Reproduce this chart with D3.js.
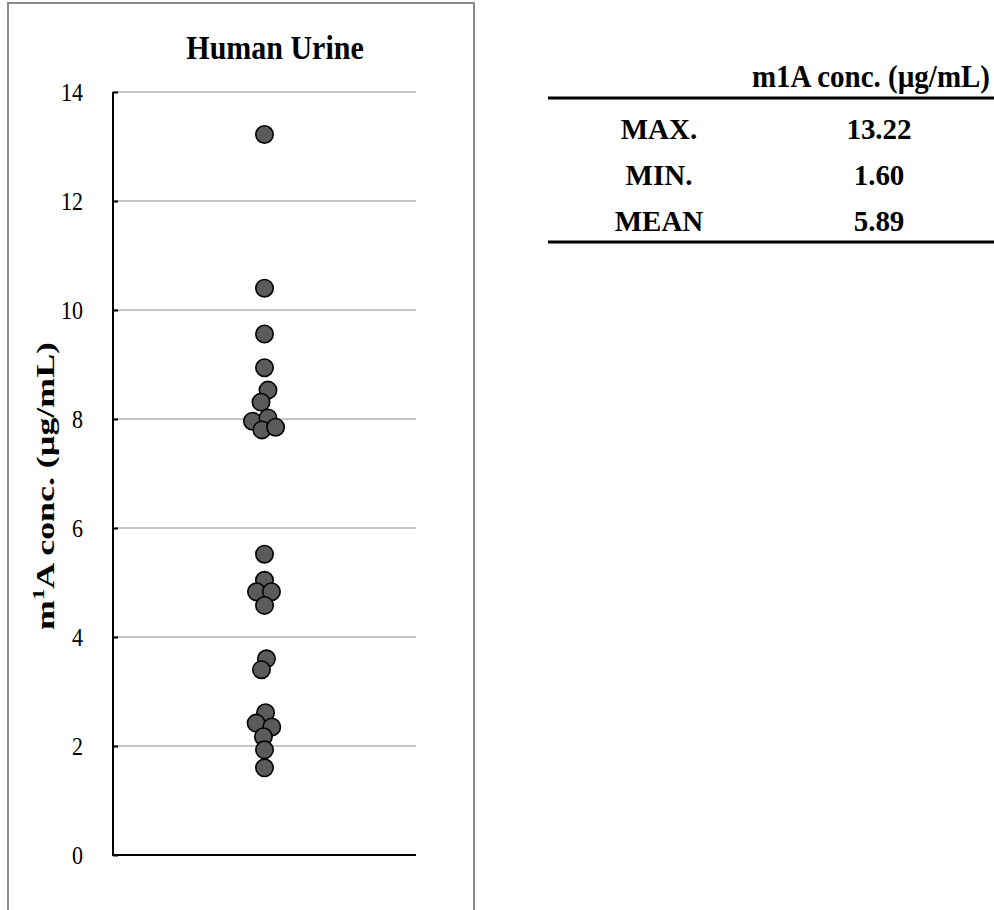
<!DOCTYPE html>
<html>
<head>
<meta charset="utf-8">
<script src="https://cdn.jsdelivr.net/npm/d3@7"></script>
<style>
  html, body { margin: 0; padding: 0; background: #fff; }
  svg { display: block; }
  text { font-family: "Liberation Serif", "Times New Roman", serif; fill: #000; }
</style>
</head>
<body>
<svg id="chart" width="994" height="910"></svg>
<script>
// m1A concentration in each urine sample (µg/mL)
const concentrations = [
  13.22, 10.40, 9.56, 8.94, 8.53, 8.31, 7.96, 8.02, 7.80, 7.85,
  5.52, 5.04, 4.83, 4.83, 4.58,
  3.60, 3.40,
  2.61, 2.42, 2.35, 2.17, 1.93, 1.60
];
// horizontal spread of the dot plot around the single category (x units)
const spread = [
  0, 0, 0, 0, 0.023, -0.023, -0.079, 0.023, -0.017, 0.073,
  0, 0, -0.053, 0.046, 0,
  0.013, -0.02,
  0.007, -0.055, 0.048, -0.007, 0, 0
];
const yTicks = [0, 2, 4, 6, 8, 10, 12, 14];
const statLabels = ["MAX.", "MIN.", "MEAN"];
const statValues = ["13.22", "1.60", "5.89"];
const chartTitle = "Human Urine";
const tableHeader = "m1A conc. (µg/mL)";

const svg = d3.select("#chart");

// text placed at (x, y) baseline, stretched vertically by k
function tallText(parent, x, y, k) {
  return parent.append("text")
    .attr("transform", `translate(${x},${y}) scale(1,${k})`);
}

// outer panel frame
svg.append("rect")
  .attr("x", 8).attr("y", 3).attr("width", 466).attr("height", 920)
  .attr("fill", "none").attr("stroke", "#8c8c8c").attr("stroke-width", 2);

const y = d3.scaleLinear().domain([0, 14]).range([855, 92]);
const x = d3.scaleLinear().domain([0, 2]).range([113, 416]);

// horizontal gridlines
svg.append("g")
  .selectAll("line")
  .data(yTicks.filter(t => t > 0))
  .join("line")
  .attr("x1", x(0)).attr("x2", x(2))
  .attr("y1", d => y(d)).attr("y2", d => y(d))
  .attr("stroke", "#b3b3b3").attr("stroke-width", 1.3);

// left axis with short inward ticks
const yAxis = svg.append("g")
  .attr("transform", `translate(${x(0)},0)`)
  .call(d3.axisLeft(y).tickValues(yTicks).tickSize(-5).tickPadding(30).tickFormat(d3.format("d")));
yAxis.select(".domain").attr("stroke", "#000").attr("stroke-width", 2)
  .attr("d", `M0,${y(14)}V${y(0)}`);
yAxis.selectAll(".tick line").attr("stroke", "#000").attr("stroke-width", 2);
yAxis.selectAll(".tick text")
  .attr("font-size", 22).attr("fill", "#000")
  .attr("transform", "scale(1,1.18)");

// baseline
svg.append("line")
  .attr("x1", x(0) - 1).attr("x2", x(2))
  .attr("y1", y(0)).attr("y2", y(0))
  .attr("stroke", "#000").attr("stroke-width", 2);

// dots
svg.append("g")
  .selectAll("circle")
  .data(concentrations.map((v, i) => ({ v, s: spread[i] })))
  .join("circle")
  .attr("cx", d => x(1 + d.s))
  .attr("cy", d => y(d.v))
  .attr("r", 8.7)
  .attr("fill", "#5b5b5b")
  .attr("stroke", "#000")
  .attr("stroke-width", 1.6);

// title
tallText(svg, 275, 59, 1.1)
  .attr("text-anchor", "middle")
  .attr("font-weight", "bold").attr("font-size", 30)
  .text(chartTitle);

// y-axis title with superscript
const yl = svg.append("text")
  .attr("transform", "translate(54,486) rotate(-90)")
  .attr("text-anchor", "middle")
  .attr("font-weight", "bold").attr("font-size", 25)
  .attr("textLength", 288).attr("lengthAdjust", "spacingAndGlyphs");
yl.append("tspan").text("m");
yl.append("tspan").attr("font-size", 16).attr("dy", -10).text("1");
yl.append("tspan").attr("dy", 10).text("A conc. (µg/mL)");

// summary table
const tbl = svg.append("g");
tallText(tbl, 871, 87, 1.12)
  .attr("text-anchor", "middle")
  .attr("font-weight", "bold").attr("font-size", 29)
  .text(tableHeader);
tbl.append("line")
  .attr("x1", 548).attr("x2", 994).attr("y1", 98).attr("y2", 98)
  .attr("stroke", "#000").attr("stroke-width", 3);
statLabels.forEach((d, i) => {
  tallText(tbl, 659, 139 + i * 46, 1.05)
    .attr("text-anchor", "middle")
    .attr("font-weight", "bold").attr("font-size", 29)
    .text(d);
});
statValues.forEach((d, i) => {
  tallText(tbl, 879, 139 + i * 46, 1.05)
    .attr("text-anchor", "middle")
    .attr("font-weight", "bold").attr("font-size", 29)
    .text(d);
});
tbl.append("line")
  .attr("x1", 548).attr("x2", 994).attr("y1", 242).attr("y2", 242)
  .attr("stroke", "#000").attr("stroke-width", 3);
</script>
</body>
</html>
